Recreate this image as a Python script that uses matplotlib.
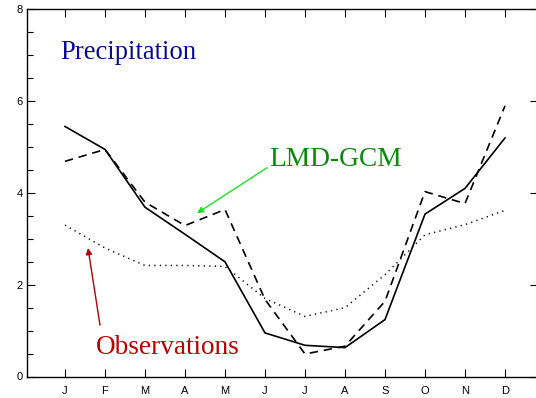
import matplotlib
matplotlib.use("Agg")
import matplotlib.pyplot as plt
from matplotlib.ticker import MultipleLocator

months = ["J", "F", "M", "A", "M", "J", "J", "A", "S", "O", "N", "D"]
month_pos = list(range(1, 13))

# monthly precipitation (mm/day)
gcm_solid = [5.45, 4.95, 3.69, 3.10, 2.50, 0.95, 0.68, 0.63, 1.24, 3.54, 4.10, 5.20]
gcm_dashed = [4.69, 4.95, 3.80, 3.29, 3.64, 1.68, 0.49, 0.66, 1.64, 4.03, 3.77, 5.90]
observations = [3.30, 2.80, 2.42, 2.42, 2.40, 1.70, 1.31, 1.50, 2.22, 3.09, 3.31, 3.62]

fig = plt.figure(figsize=(5.36, 3.98), dpi=100)
ax = fig.add_axes([27 / 536, 21.5 / 398, 511 / 536, 367 / 398])

ax.plot(month_pos, gcm_solid, color="black", lw=1.2, ls="-")
ax.plot(month_pos, gcm_dashed, color="black", lw=1.2, ls=(0, (5, 3.5)))
ax.plot(month_pos, observations, color="black", lw=1.1, ls=(0, (0.8, 2.8)))

ax.set_xlim(0.05, 12.825)
ax.set_ylim(0, 8)
ax.set_xticks(month_pos)
ax.set_xticklabels(months)
ax.yaxis.set_major_locator(MultipleLocator(2))
ax.yaxis.set_minor_locator(MultipleLocator(0.5))
ax.tick_params(which="both", direction="in", top=True, right=True,
               labelsize=8, width=0.8, color="black")
ax.tick_params(which="major", length=6)
ax.tick_params(which="minor", length=4, right=False)
ax.tick_params(axis="x", pad=7)
ax.tick_params(axis="y", pad=3)
for lab in ax.get_xticklabels() + ax.get_yticklabels():
    lab.set_family("Liberation Sans")
for sp in ax.spines.values():
    sp.set_linewidth(1.0)

serif = "Liberation Serif"
ax.text(0.875, 6.92, "Precipitation", family=serif, fontsize=19.2,
        color="#0b0b8f", va="baseline", ha="left")

ax.annotate("", xy=(4.3, 3.56), xytext=(6.05, 4.55),
            arrowprops=dict(arrowstyle="-|>", color="#22dd22", lw=1.0,
                            mutation_scale=9, shrinkA=0, shrinkB=0))
ax.text(6.1, 4.59, "LMD-GCM", family=serif, fontsize=19.7,
        color="#0a8a0a", va="baseline", ha="left")

ax.annotate("", xy=(1.575, 2.8), xytext=(1.875, 1.12),
            arrowprops=dict(arrowstyle="-|>", color="#b00000", lw=1.0,
                            mutation_scale=9, shrinkA=0, shrinkB=0))
ax.text(1.775, 0.49, "Observations", family=serif, fontsize=19.6,
        color="#b80000", va="baseline", ha="left")

fig.savefig("out.png", dpi=100)
